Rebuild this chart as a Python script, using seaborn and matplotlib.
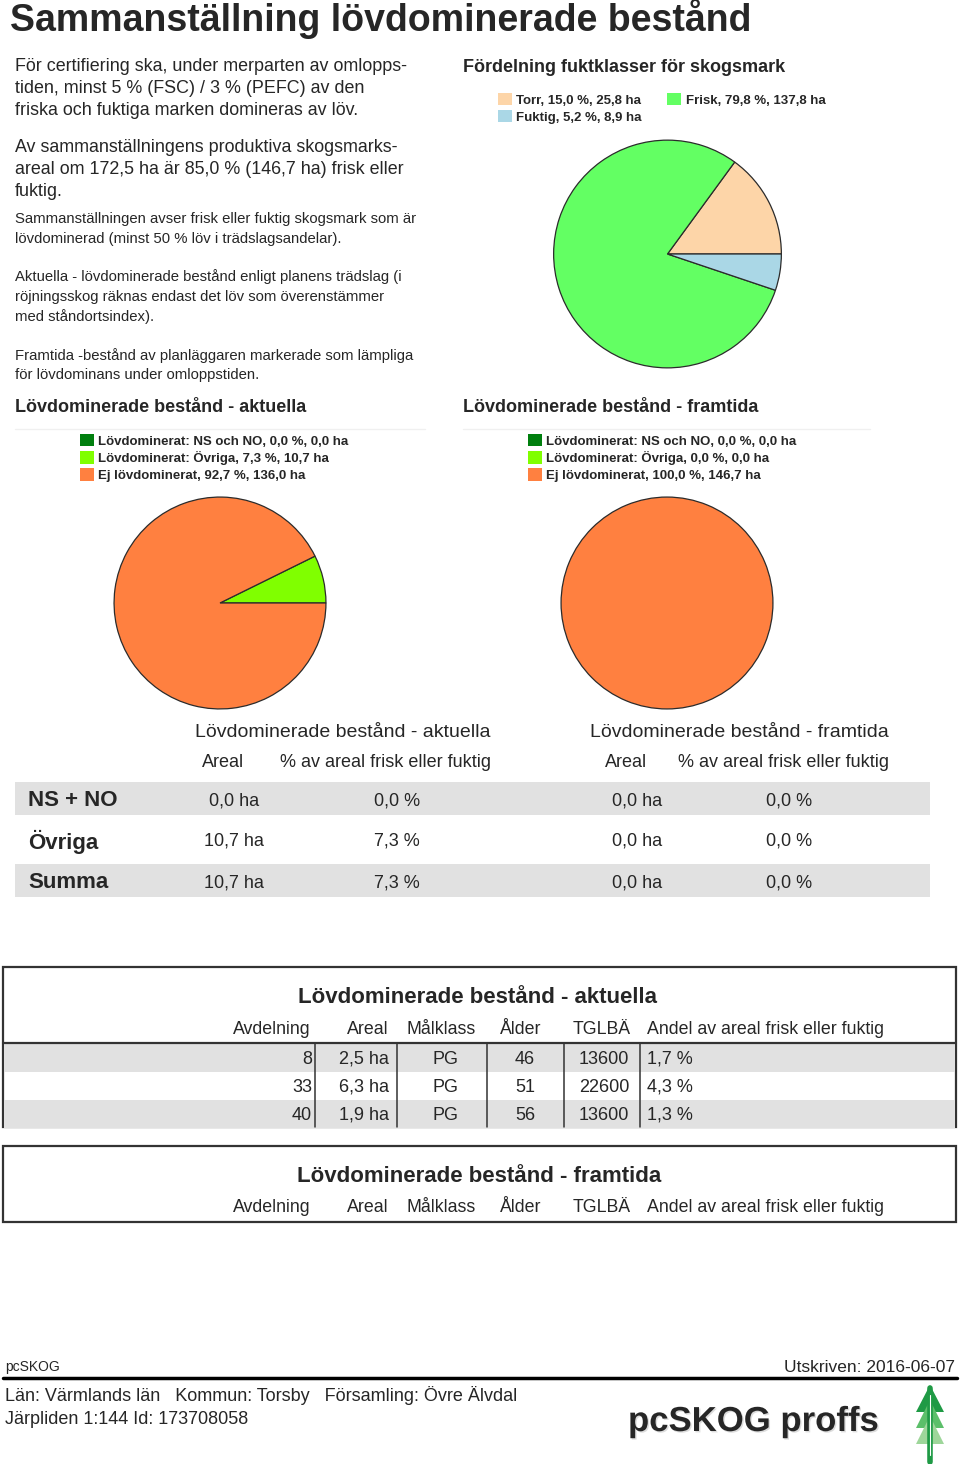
import numpy as np
import pandas as pd
import seaborn as sns
import matplotlib.pyplot as plt
from matplotlib.patches import Patch, Rectangle, Polygon
import matplotlib.patheffects as pe

# Fuktklasser för skogsmark
fukt_klass = ['Torr', 'Frisk', 'Fuktig']
fukt_ha = [25.8, 137.8, 8.9]
fukt_pct = [15.0, 79.8, 5.2]
fukt_farg = ['#fdd5a8', '#63ff63', '#aad7e6']

# Lövdominerade bestånd
lov_klass = ['Lövdominerat: NS och NO', 'Lövdominerat: Övriga', 'Ej lövdominerat']
lov_farg = ['#007f0e', '#80ff00', '#ff8040']
akt_ha = [0.0, 10.7, 136.0]
akt_pct = [0.0, 7.3, 92.7]
fram_ha = [0.0, 0.0, 146.7]
fram_pct = [0.0, 0.0, 100.0]

# Sammanställning
rad_namn = ['NS + NO', 'Övriga', 'Summa']
akt_areal = [0.0, 10.7, 10.7]
akt_andel = [0.0, 7.3, 7.3]
fram_areal = [0.0, 0.0, 0.0]
fram_andel = [0.0, 0.0, 0.0]

# Beståndslista aktuella
kolumner = ['Avdelning', 'Areal', 'Målklass', 'Ålder', 'TGLBÄ', 'Andel av areal frisk eller fuktig']
avdelning = [8, 33, 40]
areal = [2.5, 6.3, 1.9]
malklass = ['PG', 'PG', 'PG']
alder = [46, 51, 56]
tglba = [13600, 22600, 13600]
andel = [1.7, 4.3, 1.3]

sns.set_theme(style='white')
plt.rcParams['font.family'] = ['Liberation Sans', 'DejaVu Sans']

W, H = 960, 1464
fig = plt.figure(figsize=(W / 100, H / 100), dpi=100)
ax = fig.add_axes([0, 0, 1, 1])
ax.set_xlim(0, W)
ax.set_ylim(H, 0)
ax.axis('off')


def sv(v):
    return f'{v:.1f}'.replace('.', ',')


def txt(x, y, s, size=12.5, **kw):
    # liten nedflyttning så att texten hamnar som i förlagan
    ax.text(x, y + 1.5, s, fontsize=size, va='center', **kw)


def rita_paj(cx, cy, r, values, colors):
    a = fig.add_axes([(cx - r) / W, 1 - (cy + r) / H, 2 * r / W, 2 * r / H])
    a.pie(values, colors=colors, startangle=0, counterclock=True,
          wedgeprops=dict(edgecolor='#2b2b2b', linewidth=0.9))
    a.set_xlim(-1.01, 1.01)
    a.set_ylim(-1.01, 1.01)
    a.set_aspect('equal')
    a.axis('off')


def legend(x, y, labels, colors, ncol=1, colsp=2.0):
    handles = [Patch(facecolor=c, edgecolor='none') for c in colors]
    fig.legend(handles, labels, loc='upper left', bbox_to_anchor=(x / W, 1 - y / H),
               frameon=False, ncol=ncol, prop={'weight': 'bold', 'size': 9.5},
               handlelength=1.05, handleheight=1.05, handletextpad=0.35,
               labelspacing=0.26, borderpad=0, borderaxespad=0, columnspacing=colsp)


# Rubrik
txt(10, 17, 'Sammanställning lövdominerade bestånd', size=27, weight='bold')

# Vänster textspalt
for y, s in zip([65, 87, 109], ['För certifiering ska, under merparten av omlopps-',
                                'tiden, minst 5 % (FSC) / 3 % (PEFC) av den',
                                'friska och fuktiga marken domineras av löv.']):
    txt(15, y, s, size=12.9)
for y, s in zip([146, 168, 190], ['Av sammanställningens produktiva skogsmarks-',
                                  'areal om 172,5 ha är 85,0 % (146,7 ha) frisk eller',
                                  'fuktig.']):
    txt(15, y, s, size=12.9)
for y, s in zip([217, 237], ['Sammanställningen avser frisk eller fuktig skogsmark som är',
                             'lövdominerad (minst 50 % löv i trädslagsandelar).']):
    txt(15, y, s, size=10.7)
for y, s in zip([275, 295, 315], ['Aktuella - lövdominerade bestånd enligt planens trädslag (i',
                                  'röjningsskog räknas endast det löv som överenstämmer',
                                  'med ståndortsindex).']):
    txt(15, y, s, size=10.7)
for y, s in zip([354, 374], ['Framtida -bestånd av planläggaren markerade som lämpliga',
                             'för lövdominans under omloppstiden.']):
    txt(15, y, s, size=10.7)

# Fuktklasser
txt(463, 66, 'Fördelning fuktklasser för skogsmark', size=13, weight='bold')
fukt_lab = [f'{k}, {sv(p)} %, {sv(h)} ha' for k, p, h in zip(fukt_klass, fukt_pct, fukt_ha)]
order = [0, 2, 1]
legend(498, 93, [fukt_lab[i] for i in order], [fukt_farg[i] for i in order], ncol=2, colsp=1.9)
rita_paj(667.5, 254, 115, fukt_ha, fukt_farg)

# Lövdominerade pajer
txt(15, 406, 'Lövdominerade bestånd - aktuella', size=13, weight='bold')
txt(463, 406, 'Lövdominerade bestånd - framtida', size=13, weight='bold')
ax.plot([15, 425], [429, 429], color='#f0f0f0', lw=1)
ax.plot([463, 870], [429, 429], color='#f0f0f0', lw=1)
akt_lab = [f'{k}, {sv(p)} %, {sv(h)} ha' for k, p, h in zip(lov_klass, akt_pct, akt_ha)]
fram_lab = [f'{k}, {sv(p)} %, {sv(h)} ha' for k, p, h in zip(lov_klass, fram_pct, fram_ha)]
legend(80, 434, akt_lab, lov_farg)
legend(528, 434, fram_lab, lov_farg)
rita_paj(220, 603, 107, akt_ha, lov_farg)
rita_paj(667, 603, 107, fram_ha, lov_farg)

# Sammanställningstabell
txt(343, 731, 'Lövdominerade bestånd - aktuella', size=14, ha='center')
txt(739, 731, 'Lövdominerade bestånd - framtida', size=14, ha='center')
for x, s in [(223, 'Areal'), (385, '% av areal frisk eller fuktig'),
             (626, 'Areal'), (783, '% av areal frisk eller fuktig')]:
    txt(x, 761, s, size=13, ha='center')
rad_y = [799, 840, 881]
for i, y in enumerate(rad_y):
    if i != 1:
        ax.add_patch(Rectangle((15, y - 17), 915, 33, color='#e1e1e1', lw=0))
    txt(28, y, rad_namn[i], size=16, weight='bold')
    txt(234, y, f'{sv(akt_areal[i])} ha', ha='center', size=13)
    txt(397, y, f'{sv(akt_andel[i])} %', ha='center', size=13)
    txt(637, y, f'{sv(fram_areal[i])} ha', ha='center', size=13)
    txt(789, y, f'{sv(fram_andel[i])} %', ha='center', size=13)

# Beståndslista aktuella
ax.add_patch(Rectangle((3, 967), 953, 160, fill=False, edgecolor='#333333', lw=1.6))
txt(478, 996, 'Lövdominerade bestånd - aktuella', size=16, weight='bold', ha='center')
kol_x = [(311, 'right'), (389, 'right'), (441, 'center'), (521, 'center'), (631, 'right'), (647, 'left')]
for (x, ha), k in zip(kol_x, kolumner):
    txt(x, 1028, k, size=12.8, ha=ha)
for i in range(len(avdelning)):
    y = 1058 + 28 * i
    if i % 2 == 0:
        ax.add_patch(Rectangle((4, y - 14), 951, 28, color='#e1e1e1', lw=0))
    txt(312, y, str(avdelning[i]), ha='right', size=13)
    txt(389, y, f'{sv(areal[i])} ha', ha='right', size=13)
    txt(445, y, malklass[i], ha='center', size=13)
    txt(525, y, str(alder[i]), ha='center', size=13)
    txt(629, y, str(tglba[i]), ha='right', size=13)
    txt(647, y, f'{sv(andel[i])} %', ha='left', size=13)
ax.plot([3, 956], [1043, 1043], color='#333333', lw=1.6)
for x in [315, 397, 487, 564, 640]:
    ax.plot([x, x], [1043, 1127], color='#333333', lw=1.1)

# Beståndslista framtida
ax.add_patch(Rectangle((3, 1146), 953, 76, fill=False, edgecolor='#333333', lw=1.6))
txt(479, 1175, 'Lövdominerade bestånd - framtida', size=16, weight='bold', ha='center')
for (x, ha), k in zip(kol_x, kolumner):
    txt(x, 1206, k, size=12.8, ha=ha)

# Sidfot
txt(5, 1365, 'pcSKOG', size=10)
txt(955, 1366, 'Utskriven: 2016-06-07', size=12.5, ha='right')
ax.plot([3, 957], [1378, 1378], color='black', lw=2.5)
txt(5, 1394, 'Län: Värmlands län   Kommun: Torsby   Församling: Övre Älvdal', size=13)
txt(5, 1418, 'Järpliden 1:144 Id: 173708058', size=13)
txt(628, 1420, 'pcSKOG proffs', size=25, weight='bold',
    path_effects=[pe.withSimplePatchShadow(offset=(1, -1), shadow_rgbFace='#bbbbbb', alpha=0.5)])
# logga
ax.add_patch(Polygon([[930, 1385], [916, 1412], [944, 1412]], color='#1f9a45', lw=0))
ax.add_patch(Polygon([[930, 1400], [916, 1428], [944, 1428]], color='#5cbf6a', lw=0))
ax.add_patch(Polygon([[930, 1416], [916, 1444], [944, 1444]], color='#9ed69a', lw=0))
ax.plot([930, 930], [1388, 1462], color='#1f9a45', lw=4)
ax.plot([930, 930], [1395, 1455], color='white', lw=0.8)

fig.savefig('out.png', dpi=100)
